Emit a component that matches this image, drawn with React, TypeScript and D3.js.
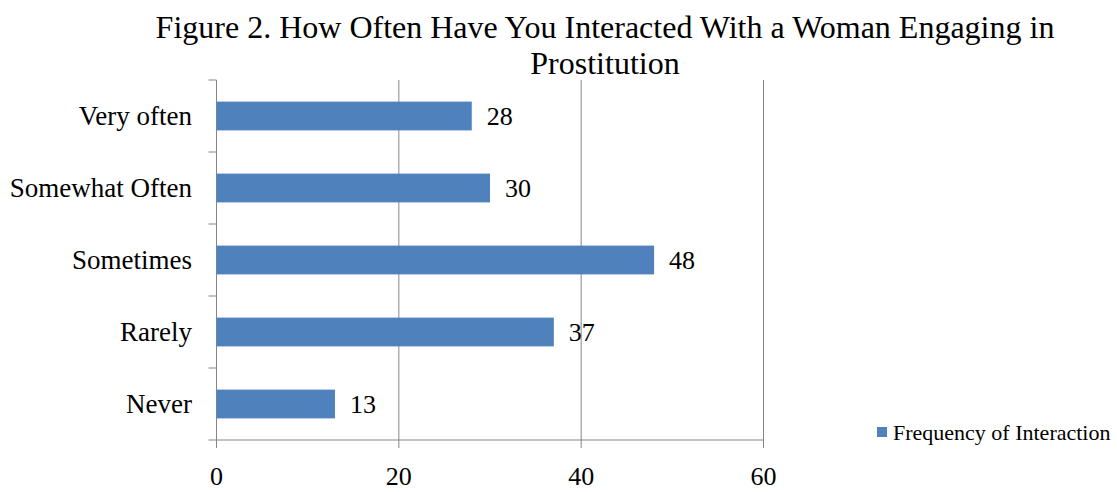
import React from "react";
import * as d3 from "d3";

const categories = ["Very often", "Somewhat Often", "Sometimes", "Rarely", "Never"];
const values = [28, 30, 48, 37, 13];
const xTicks = [0, 20, 40, 60];
const seriesName = "Frequency of Interaction";
const titleLines = ["Figure 2. How Often Have You Interacted With a Woman Engaging in", "Prostitution"];

export default function App() {
  const W = 1117, H = 492;
  const left = 216.5, right = 763.5, top = 80, bottom = 440;
  const x = d3.scaleLinear().domain([0, 60]).range([left, right]);
  const y = d3.scaleBand().domain(categories).range([top, bottom]).paddingInner(0.6).paddingOuter(0.3);
  const band = d3.scaleBand().domain(categories).range([top, bottom]);
  const font = "'Liberation Serif', 'Times New Roman', serif";
  const grid = "#868686";
  return (
    <svg width={W} height={H} style={{ position: "absolute", left: 0, top: 0 }} fontFamily={font}>
      <rect width={W} height={H} fill="#fff" />
      {titleLines.map((t, i) => (
        <text key={i} x={605} y={38 + i * 36} textAnchor="middle" fontSize={32} fill="#000">{t}</text>
      ))}
      {xTicks.slice(1).map((t) => (
        <line key={t} x1={x(t)} x2={x(t)} y1={top} y2={bottom} stroke={grid} strokeWidth={1} />
      ))}
      {xTicks.map((t) => (
        <line key={"tk" + t} x1={x(t)} x2={x(t)} y1={bottom} y2={bottom + 8} stroke={grid} />
      ))}
      <line x1={left} x2={right} y1={bottom} y2={bottom} stroke={grid} />
      <line x1={left} x2={left} y1={top} y2={bottom} stroke={grid} />
      {[...categories.map((c) => band(c) as number), bottom].map((v, i) => (
        <line key={"yt" + i} x1={left - 8} x2={left} y1={v} y2={v} stroke={grid} />
      ))}
      {categories.map((c, i) => (
        <g key={c}>
          <rect x={x(0)} y={y(c)} width={x(values[i]) - x(0)} height={y.bandwidth()} fill="#4F81BD" />
          <text x={x(values[i]) + 15} y={(y(c) as number) + y.bandwidth() / 2 + 9} fontSize={26} fill="#000">{values[i]}</text>
          <text x={192} y={(band(c) as number) + band.bandwidth() / 2 + 9} fontSize={27} textAnchor="end" fill="#000">{c}</text>
        </g>
      ))}
      {xTicks.map((t) => (
        <text key={"xl" + t} x={x(t)} y={485} fontSize={26} textAnchor="middle" fill="#000">{t}</text>
      ))}
      <rect x={877} y={427} width={10} height={10} fill="#4F81BD" />
      <text x={893} y={440} fontSize={22} fill="#000">{seriesName}</text>
    </svg>
  );
}
